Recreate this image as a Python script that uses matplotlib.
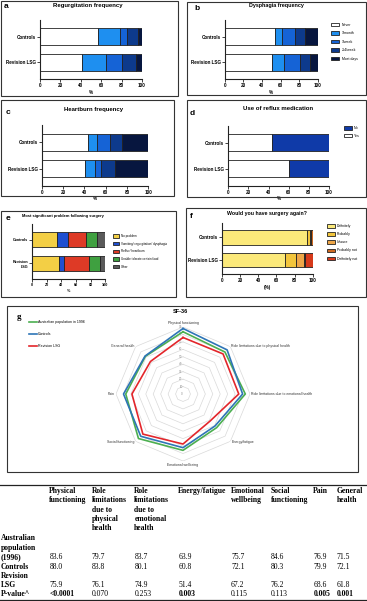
import matplotlib
matplotlib.use('Agg')
import matplotlib.pyplot as plt
import numpy as np
from matplotlib.patches import Rectangle
from matplotlib.lines import Line2D

plt.rcParams['font.family'] = ['Liberation Sans', 'DejaVu Sans']

# ---------------- data ----------------
groups = ['Controls', 'Revision LSG']
freq_labels = ['Never', '1/month', '1/week', '2-4/week', 'Most days']
regurg_controls = [57, 21, 7, 11, 4]
regurg_revision = [41, 24, 15, 14, 6]
dysph_controls = [54, 7, 14, 11, 14]
dysph_revision = [51, 13, 17, 10, 9]
heart_controls = [43, 9, 12, 11, 25]
heart_revision = [41, 9, 6, 13, 31]
med_labels = ['Yes', 'No']
med_controls = [43, 57]
med_revision = [60, 40]
problem_labels = ['No problem', 'Vomiting/ regurgitation/ dysphagia', 'Reflux/ heartburn',
                  'Unable tolerate certain food', 'Other']
problem_controls = [34, 15, 25, 14, 12]
problem_revision = [37, 6, 35, 15, 7]
again_labels = ['Definitely', 'Probably', 'Unsure', 'Probably not', 'Definitely not']
again_controls = [93, 4, 1, 2, 0]
again_revision = [69, 12, 9, 1, 9]
pct_ticks = [0, 20, 40, 60, 80, 100]

sf36_domains = ['Physical functioning', 'Role limitations due to physical health',
                'Role limitations due to emotional health', 'Energy/fatigue',
                'Emotional wellbeing', 'Social functioning', 'Pain', 'General health']
sf36_headers = ['Physical\nfunctioning', 'Role\nlimitations\ndue to\nphysical\nhealth',
                'Role\nlimitations\ndue to\nemotional\nhealth', 'Energy/fatigue',
                'Emotional\nwellbeing', 'Social\nfunctioning', 'Pain', 'General\nhealth']
series_names = ['Australian population in 1996', 'Controls', 'Revision LSG']
aus_1996 = [83.6, 79.7, 83.7, 63.9, 75.7, 84.6, 76.9, 71.5]
controls_sf36 = [88.0, 83.8, 80.1, 60.8, 72.1, 80.3, 79.9, 72.1]
revision_sf36 = [75.9, 76.1, 74.9, 51.4, 67.2, 76.2, 68.6, 61.8]
p_values = ['<0.0001', '0.070', '0.253', '0.003', '0.115', '0.113', '0.005', '0.001']
p_bold = [True, False, False, True, False, False, True, True]
row_labels = ['Australian\npopulation\n(1996)', 'Controls', 'Revision\nLSG', 'P-value^']
ring_levels = [0, 10, 20, 30, 40, 50, 60, 70, 80, 90]

# ---------------- figure ----------------
W, H = 367, 601
DPI = 100
fig = plt.figure(figsize=(W / DPI, H / DPI), dpi=DPI)
fig.patch.set_facecolor('white')


def add_ax(x0, y0, x1, y1, **kw):
    return fig.add_axes([x0 / W, 1 - y1 / H, (x1 - x0) / W, (y1 - y0) / H], **kw)


def box(x0, y0, x1, y1, lw=0.8):
    fig.add_artist(Rectangle((x0 / W, 1 - y1 / H), (x1 - x0) / W, (y1 - y0) / H,
                             transform=fig.transFigure, fill=False, lw=lw, ec='#333333'))


def ftext(x, y, s, **kw):
    fig.text(x / W, 1 - y / H, s, **kw)


freq_colors = ['white', '#1e8ff0', '#1563d6', '#0d3a8c', '#07163f']
med_colors = ['white', '#0f3aa8']
problem_colors = ['#f3cf45', '#1f4fd0', '#de3a26', '#3fa040', '#5a5a5a']
again_colors = ['#fbe97a', '#f2c53c', '#eea648', '#cf6a22', '#d6391a']


def bar_panel(axrect, ctrl, rev, colors, labels, ylabels, tick_size, xlabel='%'):
    ax = add_ax(*axrect)
    ypos = [1, 0]
    cum = np.zeros(2)
    handles = []
    for i in range(len(ctrl)):
        vals = np.array([ctrl[i], rev[i]], dtype=float)
        b = ax.barh(ypos, vals, left=cum, height=0.65, color=colors[i],
                    edgecolor='#222222', linewidth=0.6, label=labels[i])
        handles.append(b)
        cum += vals
    ax.set_xlim(0, 100)
    ax.set_ylim(-0.65, 1.65)
    ax.set_xticks(pct_ticks)
    ax.set_xticklabels([str(t) for t in pct_ticks], fontsize=tick_size, fontweight='bold')
    ax.set_yticks(ypos)
    ax.set_yticklabels(ylabels, fontsize=tick_size, fontweight='bold')
    for s in ['top', 'right']:
        ax.spines[s].set_visible(False)
    for s in ['left', 'bottom']:
        ax.spines[s].set_linewidth(0.8)
        ax.spines[s].set_color('#222222')
    ax.tick_params(length=2, width=0.6, pad=1, color='#222222')
    ax.set_xlabel(xlabel, fontsize=tick_size, fontweight='bold', labelpad=1)
    ax.patch.set_alpha(0)
    return ax, handles


def legend(ax, handles, labels, x, y, fs, hl, hh, ls, tp):
    ax.legend(handles, labels, loc='upper left', bbox_to_anchor=(x / W, 1 - y / H),
              bbox_transform=fig.transFigure, frameon=False, fontsize=fs,
              handlelength=hl, handleheight=hh, labelspacing=ls, handletextpad=tp,
              borderpad=0, borderaxespad=0)


# panel a
box(1, 1, 178, 96)
ax, h = bar_panel((40, 20, 142, 79), regurg_controls, regurg_revision, freq_colors,
                  freq_labels, groups, 3.3)
ftext(88, 6, 'Regurgitation frequency', ha='center', va='center', fontsize=4.3, fontweight='bold')
ftext(4, 6, 'a', ha='left', va='center', fontsize=6, fontweight='bold')

# panel b
box(187, 2, 366, 95)
ax, h = bar_panel((224.7, 20, 318, 79), dysph_controls, dysph_revision, freq_colors,
                  freq_labels, groups, 3.3)
ftext(276, 6, 'Dysphagia frequency', ha='center', va='center', fontsize=3.9, fontweight='bold')
ftext(194, 8, 'b', ha='left', va='center', fontsize=6, fontweight='bold')
legend(ax, h, freq_labels, 330.7, 22.5, 2.5, 2.4, 1.2, 1.3, 0.8)

# panel c
box(1, 100, 174, 196)
ax, h = bar_panel((41.7, 125, 148.3, 185.7), heart_controls, heart_revision, freq_colors,
                  freq_labels, groups, 3.3)
ftext(94, 109, 'Heartburn frequency', ha='center', va='center', fontsize=4.3, fontweight='bold')
ftext(6, 112, 'c', ha='left', va='center', fontsize=6, fontweight='bold')

# panel d
box(187, 100, 366, 197)
ax, h = bar_panel((228.3, 125.7, 329, 185.7), med_controls, med_revision, med_colors,
                  med_labels, groups, 3.3)
ftext(278, 108, 'Use of reflux medication', ha='center', va='center', fontsize=4.3, fontweight='bold')
ftext(190, 113, 'd', ha='left', va='center', fontsize=6, fontweight='bold')
legend(ax, h[::-1], med_labels[::-1], 344, 126, 2.6, 2.2, 1.2, 1.0, 0.5)

# panel e
box(1, 211, 176, 297)
ax, h = bar_panel((32.3, 224, 105.3, 279), problem_controls, problem_revision, problem_colors,
                  problem_labels, ['Controls', 'Revision\nLSG'], 2.7)
ftext(22, 215.7, 'Most significant problem following surgery', ha='left', va='center',
      fontsize=2.9, fontweight='bold')
ftext(6, 219, 'e', ha='left', va='center', fontsize=6, fontweight='bold')
legend(ax, h, problem_labels, 113, 234, 2.2, 2.0, 1.2, 1.2, 0.5)

# panel f
box(186, 208, 366, 297)
ax, h = bar_panel((221.7, 223, 313, 274.3), again_controls, again_revision, again_colors,
                  again_labels, groups, 3.3, xlabel='(%)')
ftext(267, 213, 'Would you have surgery again?', ha='center', va='center', fontsize=3.8,
      fontweight='bold')
ftext(190, 217, 'f', ha='left', va='center', fontsize=6, fontweight='bold')
legend(ax, h, again_labels, 327.3, 224, 2.5, 2.2, 1.2, 1.2, 0.6)

# ---------------- panel g: radar ----------------
box(7, 306, 358, 472)
ftext(180.5, 311.7, 'SF-36', ha='center', va='center', fontsize=4, fontweight='bold')
ftext(17, 317, 'g', ha='left', va='center', fontsize=6.5, fontweight='bold',
      family=['Liberation Serif', 'DejaVu Serif'])

rax = add_ax(116, 327, 250, 461, projection='polar')
rax.set_theta_offset(np.pi / 2)
rax.set_theta_direction(-1)
angles = np.linspace(0, 2 * np.pi, len(sf36_domains), endpoint=False)
closed = np.append(angles, angles[0])
rax.set_ylim(0, 90)
rax.grid(False)
rax.spines['polar'].set_visible(False)
rax.set_xticks([])
rax.set_yticks([])
rax.patch.set_alpha(0)
for lv in ring_levels[1:]:
    rax.plot(closed, [lv] * len(closed), color='#d9d9d9', lw=0.5, zorder=1)
for lv in ring_levels:
    rax.annotate(str(lv), (0, lv), xytext=(-0.3, 0), textcoords='offset points',
                 ha='right', va='center', fontsize=2.2, color='#8c8c8c')

series = [aus_1996, controls_sf36, revision_sf36]
series_colors = ['#4caf50', '#2e75b6', '#e3262b']
lines = []
for vals, col, name in zip(series, series_colors, series_names):
    ln, = rax.plot(closed, list(vals) + [vals[0]], color=col, lw=1.2, zorder=3, label=name)
    lines.append(ln)

label_r = [95, 92, 92, 92, 96, 92, 92, 92]
for ang, r, name in zip(angles, label_r, sf36_domains):
    s = np.sin(ang)
    ha = 'center' if abs(s) < 0.1 else ('left' if s > 0 else 'right')
    rax.text(ang, r, name, ha=ha, va='center', fontsize=2.5, color='#333333', clip_on=False)

fig.legend(lines, series_names, loc='upper left', bbox_to_anchor=(29 / W, 1 - 320.5 / H),
           frameon=False, fontsize=2.6, handlelength=2.2, handletextpad=0.3,
           labelspacing=2.2, borderpad=0, borderaxespad=0)

# ---------------- table ----------------
SERIF = ['Liberation Serif', 'DejaVu Serif']
TFS = 5.5
fig.add_artist(Line2D([0, 1], [1 - 485 / H] * 2, transform=fig.transFigure, color='#222222', lw=0.9))
fig.add_artist(Line2D([0, 1], [1 - 600.3 / H] * 2, transform=fig.transFigure, color='#222222', lw=0.9))

col_x = [49.3, 91.7, 134.3, 178.3, 231, 270.7, 313.3, 336.7]
header_line_y = [491, 500.5, 509.7, 518.7, 527.5]
for x, hdr in zip(col_x, sf36_headers):
    for k, part in enumerate(hdr.split('\n')):
        ftext(x, header_line_y[k], part, ha='left', va='center', fontsize=TFS,
              fontweight='bold', family=SERIF)

row_line_y = [[538, 547.5, 557], [567], [576, 585], [594.5]]
row_values = [aus_1996, controls_sf36, revision_sf36]
for r, (lab, ys) in enumerate(zip(row_labels, row_line_y)):
    for k, part in enumerate(lab.split('\n')):
        ftext(1, ys[k], part, ha='left', va='center', fontsize=TFS, fontweight='bold', family=SERIF)
    if r < 3:
        for x, v in zip(col_x, row_values[r]):
            ftext(x, ys[-1], f'{v:.1f}', ha='left', va='center', fontsize=TFS, family=SERIF)
    else:
        for x, p, b in zip(col_x, p_values, p_bold):
            ftext(x, ys[-1], p, ha='left', va='center', fontsize=TFS,
                  fontweight='bold' if b else 'normal', family=SERIF)

fig.savefig('out.png', dpi=DPI, facecolor='white')
